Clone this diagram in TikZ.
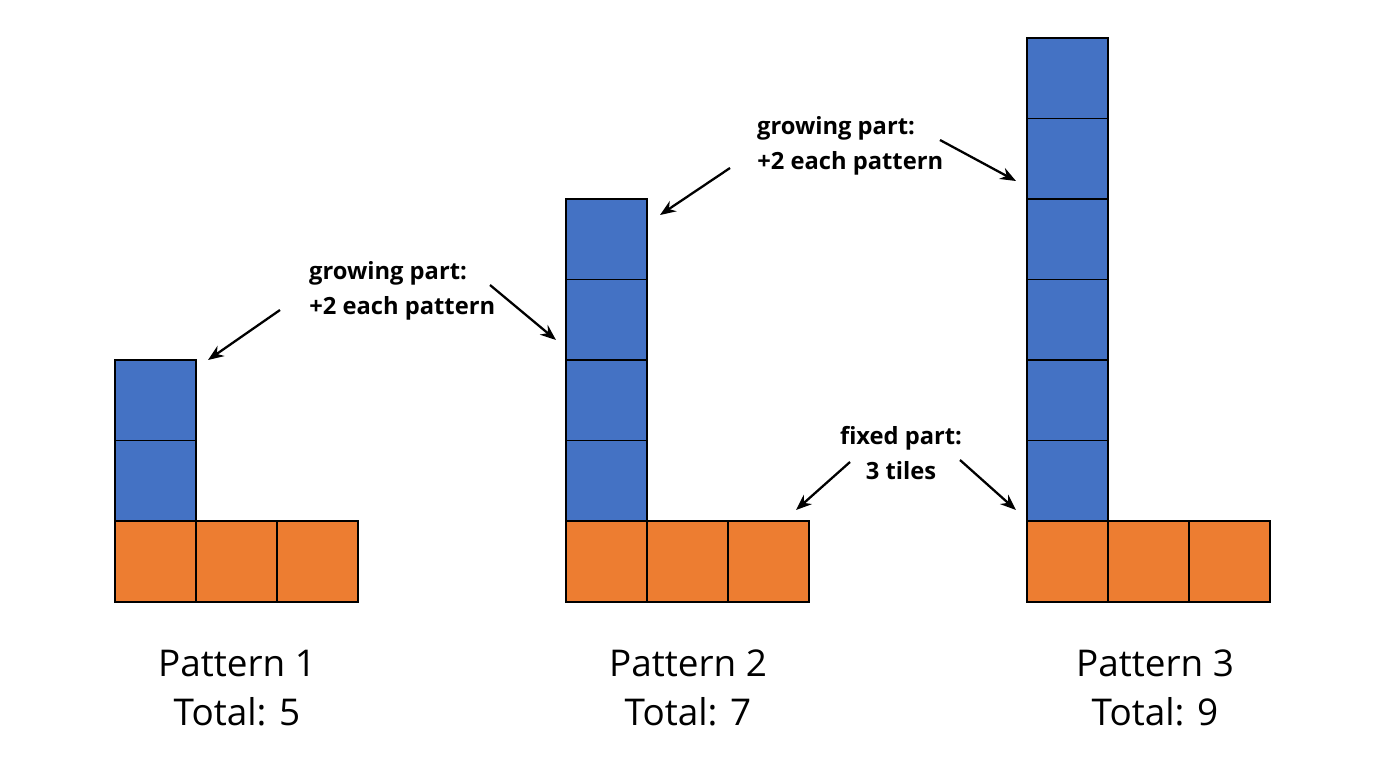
\documentclass[tikz,border=0pt]{standalone}
\usepackage{fontspec}
\setmainfont{Open Sans}
\usetikzlibrary{arrows.meta}
\definecolor{tb}{HTML}{4472C4}
\definecolor{to}{HTML}{ED7D31}
\begin{document}
\begin{tikzpicture}[x=0.02cm,y=-0.02cm,
 bt/.style={draw=black,line width=1pt,fill=tb},
 ot/.style={draw=black,line width=1pt,fill=to},
 lab/.style={font=\fontsize{21}{28}\selectfont,align=center},
 ann/.style={font=\bfseries\fontsize{13.5}{20}\selectfont,align=center},
 arr/.style={-{Stealth[length=9pt,width=7pt]},line width=1.3pt}]
\useasboundingbox (0,0) rectangle (1376,768);
\foreach \x/\n in {115/2,566/4,1027/6}{
  \foreach \i in {1,...,\n}{\draw[bt] (\x,{521-80.5*\i}) rectangle ++(81,80.5);}
  \foreach \j in {0,1,2}{\draw[ot] ({\x+81*\j},521) rectangle ++(81,81);}
}
\node[lab] (p1) at (237,688) {Pattern 1\\Total: 5};
\node[lab] (p2) at (688,688) {Pattern 2\\Total: 7};
\node[lab] (p3) at (1155,688) {Pattern 3\\Total: 9};
\node[ann] (g1) at (388,291) {growing part:\\\hspace*{1.2em}+2 each pattern};
\node[ann] (g2) at (836,146) {growing part:\\\hspace*{1.2em}+2 each pattern};
\node[ann] (f) at (901,453) {fixed part:\\3 tiles};
\coordinate (a1) at (280,310); \coordinate (b1) at (208,360);
\coordinate (a2) at (490,285); \coordinate (b2) at (556,340);
\coordinate (a3) at (730,168); \coordinate (b3) at (660,215);
\coordinate (a4) at (940,140); \coordinate (b4) at (1016,181);
\coordinate (a5) at (850,462); \coordinate (b5) at (796,510);
\coordinate (a6) at (960,460); \coordinate (b6) at (1016,510);
\foreach \k in {1,...,6}{\draw[arr] (a\k) -- (b\k);}
\end{tikzpicture}
\end{document}
